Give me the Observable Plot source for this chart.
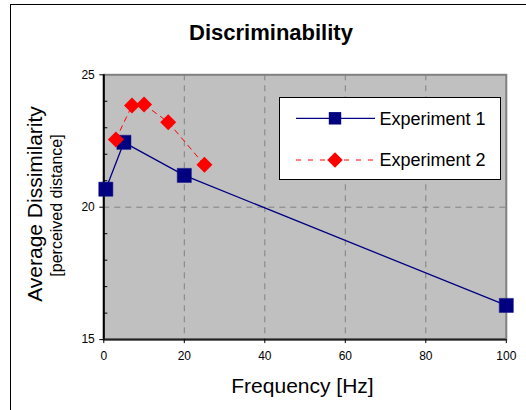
<!DOCTYPE html>
<html>
<head>
<meta charset="utf-8">
<script src="https://cdn.jsdelivr.net/npm/d3@7"></script>
<script src="https://cdn.jsdelivr.net/npm/@observablehq/plot@0.6"></script>
<style>
  html, body { margin: 0; padding: 0; background: white; }
  #chart svg { display: block; }
</style>
</head>
<body>
<div id="chart"></div>
<script>
const titleText = "Discriminability";
const xLabel = "Frequency [Hz]";
const yLabel = "Average Dissimilarity";
const ySubLabel = "[perceived distance]";
const seriesNames = ["Experiment 1", "Experiment 2"];

const exp1Freq = [0.5, 5, 20, 100];
const exp1Value = [20.68, 22.45, 21.2, 16.29];
const exp2Freq = [3, 7, 10, 16, 25];
const exp2Value = [22.56, 23.84, 23.88, 23.21, 21.6];

const xTicks = [0, 20, 40, 60, 80, 100];
const yMajorTicks = [15, 20, 25];
const yMinorTicks = [16, 17, 18, 19, 21, 22, 23, 24];
const xGrid = [20, 40, 60, 80];
const yGrid = [20];

const exp1 = exp1Freq.map((f, i) => ({f, v: exp1Value[i]}));
const exp2 = exp2Freq.map((f, i) => ({f, v: exp2Value[i]}));

const font = "'Liberation Sans', Arial, sans-serif";
const navy = "#000080";
const red = "#ff0000";

const chart = Plot.plot({
  width: 526,
  height: 410,
  marginLeft: 103.3,
  marginRight: 20.2,
  marginTop: 74.3,
  marginBottom: 70.9,
  style: {fontFamily: font, fontSize: "12px", background: "white", overflow: "visible", color: "black"},
  x: {domain: [0, 100]},
  y: {domain: [15, 25]},
  marks: [
    Plot.frame({fill: "#c0c0c0", stroke: "#808080", strokeWidth: 2}),
    Plot.ruleX(xGrid, {stroke: "#808080", strokeDasharray: "6,5", strokeWidth: 1}),
    Plot.ruleY(yGrid, {stroke: "#808080", strokeDasharray: "6,5", strokeWidth: 1}),
    Plot.ruleY(yMinorTicks, {y: d => d, x1: 0, x2: 1, stroke: "black", strokeWidth: 1}),
    Plot.ruleX([0], {stroke: "black", strokeWidth: 2}),
    Plot.ruleY([15], {stroke: "#222", strokeWidth: 2}),
    Plot.axisY({ticks: yMajorTicks, tickSize: 4, tickPadding: 5, fontSize: 12, label: null, tickFormat: d => String(d)}),
    Plot.axisX({ticks: xTicks, tickSize: 4, tickPadding: 8, fontSize: 12, label: null, tickFormat: d => String(d)}),
    Plot.line(exp1, {x: "f", y: "v", stroke: navy, strokeWidth: 1.3}),
    Plot.line(exp2, {x: "f", y: "v", stroke: red, strokeWidth: 1, strokeDasharray: "5,5"}),
    Plot.dot(exp1, {x: "f", y: "v", symbol: "square", r: 8, fill: navy, stroke: "#1a1a8a", strokeWidth: 0.5}),
    Plot.dot(exp2, {x: "f", y: "v", symbol: "diamond2", r: 7.2, fill: red, stroke: "none"})
  ]
});

document.getElementById("chart").appendChild(chart);

const svg = d3.select(chart);

// outer chart border
svg.append("rect")
  .attr("x", 10.5).attr("y", 4.5)
  .attr("width", 700).attr("height", 700)
  .attr("fill", "none").attr("stroke", "black").attr("stroke-width", 1);

// title
svg.append("text")
  .attr("x", 271).attr("y", 39.5)
  .attr("text-anchor", "middle")
  .attr("font-family", font).attr("font-size", 22).attr("font-weight", "bold")
  .attr("fill", "black")
  .text(titleText);

// x label
svg.append("text")
  .attr("x", 302.5).attr("y", 392.5)
  .attr("text-anchor", "middle")
  .attr("font-family", font).attr("font-size", 21)
  .attr("fill", "black")
  .text(xLabel);

// y labels
svg.append("text")
  .attr("transform", "translate(42,204) rotate(-90)")
  .attr("text-anchor", "middle")
  .attr("font-family", font).attr("font-size", 21)
  .attr("fill", "black")
  .text(yLabel);
svg.append("text")
  .attr("transform", "translate(61.5,205.5) rotate(-90)")
  .attr("text-anchor", "middle")
  .attr("font-family", font).attr("font-size", 16)
  .attr("fill", "black")
  .text(ySubLabel);

// legend
const lg = svg.append("g");
lg.append("rect")
  .attr("x", 279.5).attr("y", 97.5)
  .attr("width", 221).attr("height", 82)
  .attr("fill", "white").attr("stroke", "black").attr("stroke-width", 1);
const rows = [
  {name: seriesNames[0], y: 118.3, color: navy, dash: null, sym: d3.symbolSquare, size: Math.PI * 7 * 7},
  {name: seriesNames[1], y: 160, color: red, dash: "5,7", sym: d3.symbolDiamond2, size: Math.PI * 7 * 7}
];
rows.forEach(r => {
  lg.append("line")
    .attr("x1", 296).attr("x2", 375).attr("y1", r.y).attr("y2", r.y)
    .attr("stroke", r.color).attr("stroke-width", r.dash ? 1 : 1.3)
    .attr("stroke-dasharray", r.dash);
  lg.append("path")
    .attr("d", d3.symbol(r.sym, r.size)())
    .attr("transform", `translate(335,${r.y})`)
    .attr("fill", r.color);
  lg.append("text")
    .attr("x", 379.5).attr("y", r.y)
    .attr("dy", "0.35em")
    .attr("text-anchor", "start")
    .attr("font-family", font).attr("font-size", 18)
    .attr("fill", "black")
    .text(r.name);
});
</script>
</body>
</html>
